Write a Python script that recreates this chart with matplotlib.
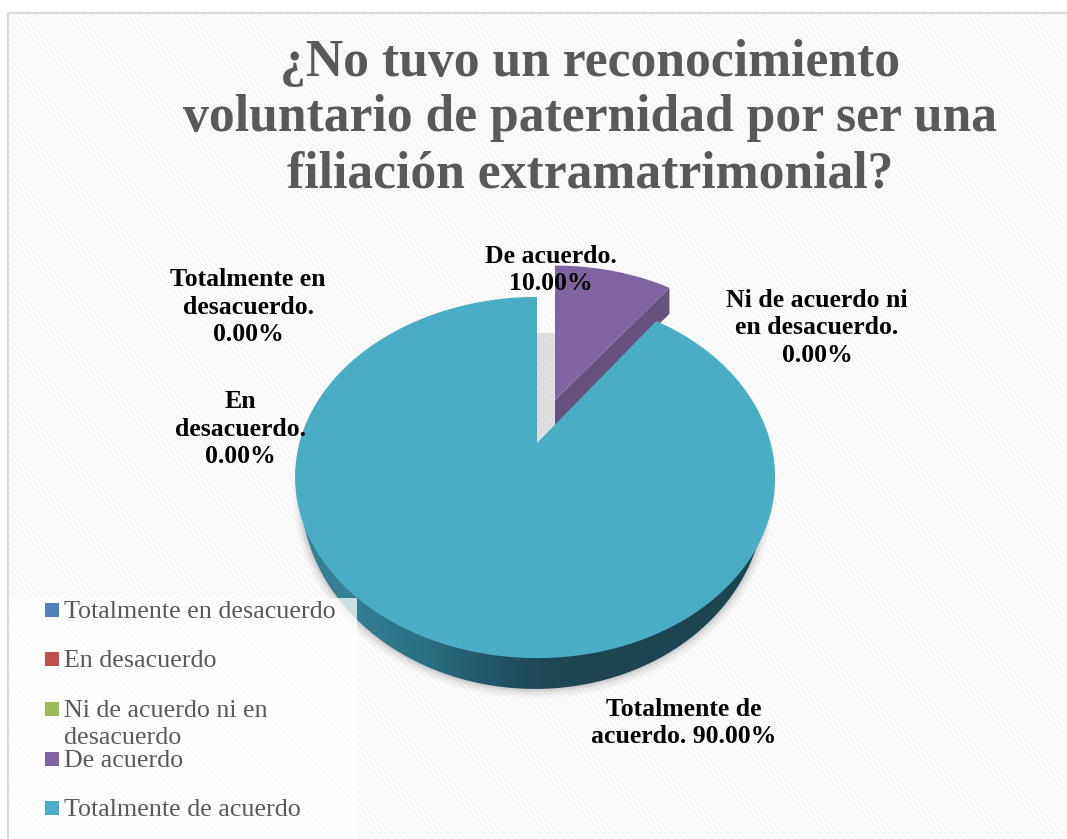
import numpy as np
import matplotlib
matplotlib.use("Agg")
import matplotlib.pyplot as plt
from matplotlib.colors import LinearSegmentedColormap
from matplotlib.patches import Polygon, Rectangle
from matplotlib.path import Path
from matplotlib.transforms import Transform, Affine2D

title_lines = ["¿No tuvo un reconocimiento",
               "voluntario de paternidad por ser una",
               "filiación extramatrimonial?"]
categories = ["Totalmente en desacuerdo", "En desacuerdo",
              "Ni de acuerdo ni en\ndesacuerdo", "De acuerdo", "Totalmente de acuerdo"]
values = [0, 0, 0, 10, 90]
colors = ["#4f81bd", "#c0504d", "#9bbb59", "#8064a2", "#4bacc6"]
data_labels = ["Totalmente en\ndesacuerdo.\n0.00%", "En\ndesacuerdo.\n0.00%",
               "Ni de acuerdo ni\nen desacuerdo.\n0.00%", "De acuerdo.\n10.00%",
               "Totalmente de\nacuerdo. 90.00%"]
label_pos = [(248, 307), (240, 429), (817, 328), (551, 270), (684, 723)]

W, H = 1067, 839
FONT = "Liberation Serif"
fig = plt.figure(figsize=(W / 100, H / 100), dpi=100, facecolor="white")
ax = fig.add_axes([0, 0, 1, 1])


class Perspective(Transform):
    input_dims = output_dims = 2
    has_inverse = False
    is_affine = False

    def __init__(self, cx, cy, sx=1.0, sy=1.0):
        super().__init__()
        self.cx, self.cy, self.sx, self.sy = cx, cy, sx, sy

    def transform_non_affine(self, xy):
        xy = np.asarray(xy, float)
        d = 1 + 0.191 * xy[:, 1]
        return np.column_stack([
            self.cx + self.sx * 235.6 * xy[:, 0] / d - 2 * xy[:, 0] ** 2,
            self.cy - self.sy * 174.0 * xy[:, 1] / d])

    def transform_path_non_affine(self, path):
        # flatten the wedge's curves finely before bending them
        polys = path.transformed(Affine2D().scale(2000)).to_polygons(closed_only=False)
        verts = np.vstack(polys) / 2000.0
        return Path(self.transform_non_affine(verts))


# background, striped only inside the chart frame
yy, xx = np.mgrid[0:H, 0:W]
stripes = 0.5 + 0.5 * np.cos(2 * np.pi * (xx - yy) / 7.0)
bg = 0.987 - 0.024 * stripes
bg[:13, :] = 1.0
bg[:, :8] = 1.0
ax.imshow(bg, cmap="gray", vmin=0, vmax=1, extent=(0, W, H, 0),
          interpolation="nearest", zorder=0)
ax.add_patch(Rectangle((8, 13), W + 50, H + 50, fc="none", ec="#d9d9d9", lw=1.6, zorder=1))

# pie: the wedges come from matplotlib's pie, then get the 3-D perspective
wedges, _ = ax.pie(values, colors=colors, startangle=90, counterclock=False,
                   wedgeprops=dict(linewidth=0))
APEX = (537, 443)
purple, teal = wedges[3], wedges[4]
for i, w in enumerate(wedges):
    if values[i] == 0:
        w.set_visible(False)

P_TOP = Perspective(555, 400, 0.96, 0.92)
purple.set_transform(P_TOP + ax.transData)
purple.set_zorder(6)
teal.set_transform(Perspective(*APEX) + ax.transData)
teal.set_zorder(10)

# purple side face
ang = np.deg2rad(90 - 360 * values[3] / sum(values))
tip = P_TOP.transform_non_affine(np.array([[0.0, 0.0], [np.cos(ang), np.sin(ang)]]))
ax.add_patch(Polygon([tip[0], tip[1], tip[1] + [0, 26], tip[0] + [0, 26]],
                     fc="#67527f", ec="none", zorder=5))

# teal side face: lower rim of the pie base, with a horizontal gradient
th = np.linspace(np.pi, 2 * np.pi, 300)
unit = np.column_stack([np.cos(th), np.sin(th)])
base = Perspective(535, 456, 0.967, 1.083).transform_non_affine(unit)
for grow, alpha in [(7, 0.035), (5, 0.05), (3, 0.07), (1.5, 0.09)]:
    P_SH = Perspective(535, 456 + grow * 0.6, 0.967 + grow / 240, 1.083 + grow / 300)
    ax.add_patch(Polygon(P_SH.transform_non_affine(unit), closed=True, fc="#444444",
                         ec="none", alpha=alpha, zorder=7))
clip = Polygon(base, closed=True, fc="none", ec="none", zorder=8)
ax.add_patch(clip)
side_cmap = LinearSegmentedColormap.from_list(
    "side", [(0.0, "#358398"), (0.12, "#337f94"), (0.27, "#2c6f83"), (0.40, "#22566a"),
             (0.52, "#1e4857"), (0.62, "#1d4551"), (1.0, "#1d4551")])
grad = ax.imshow(np.linspace(0, 1, 256)[None, :], cmap=side_cmap, aspect="auto",
                 extent=(295, 775, 720, 440), zorder=8)
grad.set_clip_path(clip)

# gap shadow between the exploded slice and the pie
ax.add_patch(Polygon([(537, 333), (555, 333), (555, 425), (537, 443)], fc="#888888",
                     alpha=0.24, ec="none", zorder=4))

ax.set_xlim(0, W)
ax.set_ylim(H, 0)
ax.set_aspect("auto")
ax.axis("off")

# title
for line, y in zip(title_lines, [63, 118, 174]):
    ax.text(590, y, line, ha="center", va="center", fontsize=37.2, fontweight="bold",
            family=FONT, color="#595959", zorder=20)

# data labels
for txt, (x, y) in zip(data_labels, label_pos):
    ax.text(x, y, txt, ha="center", va="center", fontsize=18.5, fontweight="bold",
            family=FONT, color="black", linespacing=1.26, zorder=20)

# legend
ax.add_patch(Rectangle((9, 598), 348, 241, fc="white", alpha=0.75, ec="none", zorder=15))
legend_y = [610, 659, 709, 759, 808]
for name, col, y in zip(categories, colors, legend_y):
    ax.add_patch(Rectangle((45, y - 7), 14, 14, fc=col, ec="none", zorder=16))
    ax.text(64, y - 9, name, ha="left", va="top", fontsize=18.7, family=FONT,
            color="#595959", linespacing=1.27, zorder=16)

fig.savefig("out.png", dpi=100)
